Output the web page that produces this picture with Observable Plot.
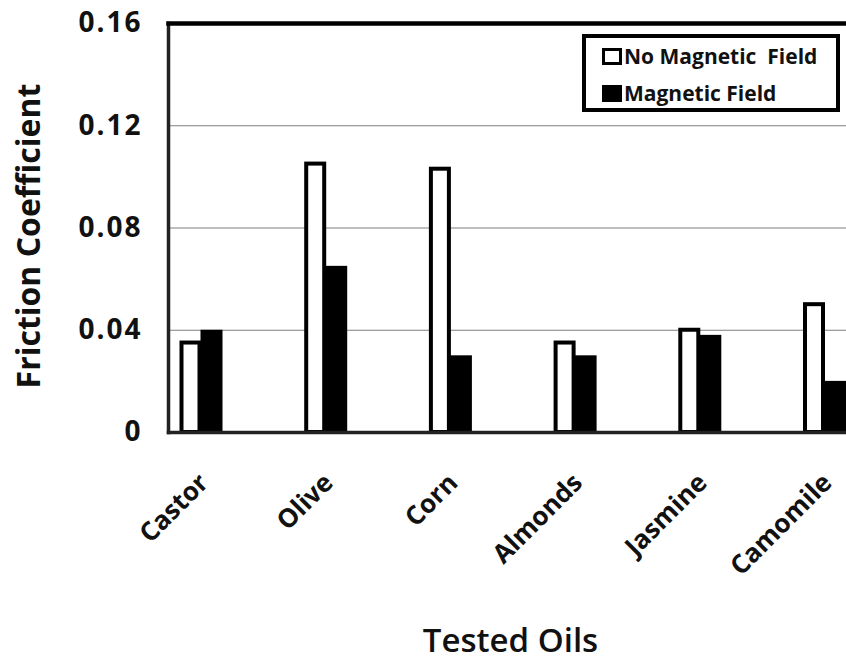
<!DOCTYPE html>
<html>
<head>
<meta charset="utf-8">
<script src="https://cdn.jsdelivr.net/npm/d3@7"></script>
<script src="https://cdn.jsdelivr.net/npm/@observablehq/plot@0.6"></script>
<style>
  body { margin: 0; background: #fff; }
  #wrap { position: relative; width: 846px; height: 664px; overflow: hidden; font-family: "Open Sans", sans-serif; }
  #wrap g[aria-label="y-axis tick label"] text { letter-spacing: 2px; }
  #legend { position: absolute; left: 582px; top: 34px; width: 258px; height: 78px; box-sizing: border-box; border: 4px solid #000; background: #fff; }
  #legend .sw { position: absolute; left: 16px; width: 20px; height: 17px; box-sizing: border-box; border: 3px solid #000; }
  #legend .lb { position: absolute; left: 38px; font-size: 21px; font-weight: bold; line-height: 22px; white-space: pre; color: #111; }
</style>
</head>
<body>
<div id="wrap"></div>
<script>
const oils = ["Castor", "Olive", "Corn", "Almonds", "Jasmine", "Camomile"];
const noField = [0.035, 0.105, 0.103, 0.035, 0.040, 0.050];
const withField = [0.040, 0.065, 0.030, 0.030, 0.038, 0.020];
const seriesNames = ["No Magnetic Field", "Magnetic Field"];
const yTicks = [0, 0.04, 0.08, 0.12, 0.16];
const gridTicks = [0.04, 0.08, 0.12];

const noData = oils.map((o, i) => ({oil: o, series: seriesNames[0], value: noField[i]}));
const magData = oils.map((o, i) => ({oil: o, series: seriesNames[1], value: withField[i]}));

const chart = Plot.plot({
  width: 846,
  height: 664,
  marginLeft: 168,
  marginRight: 0,
  marginTop: 23,
  marginBottom: 232,
  style: {fontFamily: "Open Sans", background: "#fff", color: "#111"},
  x: {domain: oils, range: [138.15, 886.35], padding: 0, round: false},
  y: {domain: [0, 0.16]},
  marks: [
    Plot.gridY(gridTicks, {stroke: "#7f7f7f", strokeOpacity: 1, strokeWidth: 1.2}),
    Plot.barY(noData, {x: "oil", y: "value", fill: "#fff", stroke: "#000", strokeWidth: 4, insetLeft: 43.35, insetRight: 63.35}),
    Plot.barY(magData, {x: "oil", y: "value", fill: "#000", insetLeft: 62.35, insetRight: 40.35}),
    Plot.frame({anchor: "left", stroke: "#222", strokeWidth: 3.5}),
    Plot.frame({anchor: "bottom", stroke: "#222", strokeWidth: 3.5}),
    Plot.frame({anchor: "top", stroke: "#000", strokeWidth: 4.5}),
    Plot.axisY(yTicks, {tickSize: 0, tickPadding: 26, fontSize: 28, fontWeight: "bold", label: null,
      tickFormat: d => d === 0 ? "0" : d.toFixed(2)}),
    Plot.axisX({tickRotate: -45, tickSize: 0, tickPadding: 46, dx: 3, fontSize: 26, fontWeight: "bold", label: null}),
    Plot.text(["Friction Coefficient"], {frameAnchor: "left", textAnchor: "middle", rotate: -90, dx: -139, dy: 8, fontSize: 32, fontWeight: "bold", fill: "#111"}),
    Plot.text(["Tested Oils"], {frameAnchor: "bottom", dx: 3, dy: 219, fontSize: 33, fontWeight: 600, fill: "#111"})
  ]
});
const wrap = document.getElementById("wrap");
wrap.appendChild(chart);

const legend = document.createElement("div");
legend.id = "legend";
const fills = ["#fff", "#000"];
const tops = [10, 47];
seriesNames.forEach((name, i) => {
  const sw = document.createElement("div");
  sw.className = "sw";
  sw.style.top = tops[i] + "px";
  sw.style.background = fills[i];
  legend.appendChild(sw);
  const lb = document.createElement("div");
  lb.className = "lb";
  lb.style.top = (tops[i] - 3) + "px";
  lb.textContent = i === 0 ? "No Magnetic  Field" : name;
  legend.appendChild(lb);
});
wrap.appendChild(legend);
</script>
</body>
</html>
